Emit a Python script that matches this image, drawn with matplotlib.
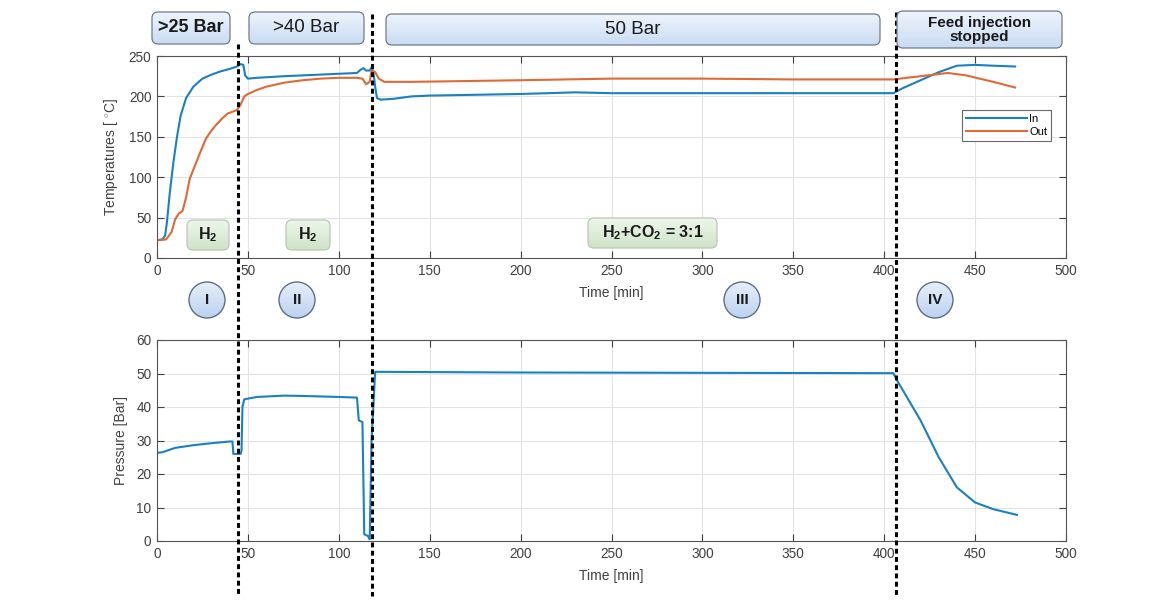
import numpy as np
import matplotlib
matplotlib.use("Agg")
import matplotlib.pyplot as plt
from matplotlib.patches import FancyBboxPatch, Circle
from matplotlib.lines import Line2D
from matplotlib.colors import LinearSegmentedColormap

plt.rcParams['font.family'] = ['Liberation Sans', 'DejaVu Sans']
plt.rcParams['mathtext.fontset'] = 'custom'
plt.rcParams['mathtext.rm'] = 'Liberation Sans'
plt.rcParams['mathtext.it'] = 'Liberation Sans:italic'
plt.rcParams['mathtext.bf'] = 'Liberation Sans:bold'

# Reactor inlet / outlet temperatures [°C]
t_in = [0, 3, 4.5, 5.5, 7, 9, 11, 13, 16, 20, 25, 30, 35, 40, 44, 46, 47.5, 48.5, 50, 55,
        70, 90, 100, 110, 112, 113.5, 115, 117, 118, 119, 120, 121, 123, 130, 140, 150,
        200, 230, 250, 300, 350, 405, 410, 420, 430, 440, 450, 460, 472]
temp_in = [22, 23, 28, 45, 80, 118, 150, 176, 198, 212, 222, 227, 231, 234, 237, 240, 239,
           226, 222, 223, 225, 227, 228, 229, 233, 235, 232, 232, 236, 231, 212, 198, 196,
           197, 200, 201, 203, 205, 204, 204, 204, 204, 210, 220, 230, 238, 239, 238, 237]

t_out = [0, 5, 8, 10, 12, 14, 16, 18, 21, 24, 27, 30, 33, 36, 39, 44, 46, 48, 50, 55, 60,
         70, 80, 90, 100, 110, 113, 115, 117, 118, 120, 122, 125, 140, 200, 250, 300, 350,
         405, 420, 435, 445, 460, 472]
temp_out = [22, 23, 32, 48, 55, 58, 75, 98, 115, 132, 148, 158, 166, 173, 179, 183, 190,
            200, 203, 208, 212, 217, 220, 222, 223, 223, 222, 215, 218, 232, 230, 222, 218,
            218, 220, 222, 222, 221, 221, 225, 229, 226, 218, 211]

# Reactor pressure [Bar]
t_p = [0, 3, 10, 20, 30, 40, 41.5, 42, 46, 46.5, 47, 48, 55, 70, 80, 100, 110, 111,
       113, 114, 116, 117, 118, 119, 120, 200, 300, 405, 407, 420, 430, 440, 450, 460, 473]
pressure = [26.3, 26.5, 27.8, 28.6, 29.2, 29.7, 29.7, 26, 26, 27, 40, 42.3, 43, 43.4, 43.3,
            43, 42.8, 36, 35.5, 2, 1.5, 0.5, 30, 40, 50.5, 50.3, 50.2, 50.1, 48, 36, 25,
            16, 11.5, 9.5, 7.8]

stage_times = [44.5, 118.3, 406.5]
pressure_labels = ['>25 Bar', '>40 Bar', '50 Bar', 'Feed injection\nstopped']
gas_labels = [r'H$_\mathbf{2}$', r'H$_\mathbf{2}$', r'H$_\mathbf{2}$+CO$_\mathbf{2}$ = 3:1']
stage_labels = ['I', 'II', 'III', 'IV']

W, H = 1165, 600
fig = plt.figure(figsize=(W / 100, H / 100), dpi=100)

blue = '#1a80c4'
orange = '#df6a35'
tick_color = '#404040'

ax1 = fig.add_axes([157 / W, 1 - 258 / H, (1066 - 157) / W, (258 - 56) / H])
ax2 = fig.add_axes([157 / W, 1 - 541 / H, (1066 - 157) / W, (541 - 340) / H])

for ax in (ax1, ax2):
    ax.set_xlim(0, 500)
    ax.set_xticks(range(0, 501, 50))
    ax.grid(True, color='#e3e3e3', linewidth=0.8)
    ax.set_axisbelow(True)
    ax.tick_params(direction='in', top=True, right=True, length=5, width=0.8,
                   labelsize=9.8, colors=tick_color, pad=4)
    for s in ax.spines.values():
        s.set_color('#555555')
        s.set_linewidth(0.8)
    ax.set_xlabel('Time [min]', fontsize=10, color=tick_color, labelpad=6)

ax1.plot(t_in, temp_in, color=blue, lw=1.5, label='In')
ax1.plot(t_out, temp_out, color=orange, lw=1.5, label='Out')
ax1.set_ylim(0, 250)
ax1.set_yticks(range(0, 251, 50))
ax1.set_ylabel('Temperatures [ $^{\\circ}$C]', fontsize=10, color=tick_color, labelpad=6)
leg = ax1.legend(loc='upper right', bbox_to_anchor=(0.99, 0.76), fontsize=8,
                 frameon=True, fancybox=False, handlelength=5.5, handletextpad=0.2,
                 borderpad=0.35, labelspacing=0.3)
leg.get_frame().set_edgecolor('#444444')
leg.get_frame().set_linewidth(0.8)

ax2.plot(t_p, pressure, color=blue, lw=1.5)
ax2.set_ylim(0, 60)
ax2.set_yticks(range(0, 61, 10))
ax2.set_ylabel('Pressure [Bar]', fontsize=10, color=tick_color, labelpad=6)

# Annotation layer in pixel coordinates (origin top-left)
ov = fig.add_axes([0, 0, 1, 1], zorder=10)
ov.set_xlim(0, W)
ov.set_ylim(H, 0)
ov.axis('off')
ov.patch.set_alpha(0)

def data_to_px(t):
    disp = ax1.transData.transform((t, 0))
    return ov.transData.inverted().transform(disp)[0]

# Stage separators spanning the whole figure
tops = [44, 14, 12]
for t, top in zip(stage_times, tops):
    x = data_to_px(t)
    ov.add_line(Line2D([x, x], [top, 596], color='black', lw=2.2,
                       linestyle=(0, (1.6, 1.1))))

blue_grad = LinearSegmentedColormap.from_list('bg', ['#eef4fc', '#c9dcf3'])
green_grad = LinearSegmentedColormap.from_list('gg', ['#eef6eb', '#cfe3c8'])
circ_grad = LinearSegmentedColormap.from_list('cg', ['#e6effb', '#bcd2ef'])
grad = np.linspace(0, 1, 64).reshape(-1, 1)

def label_box(x0, x1, y0, y1, text, cmap, edge, bold, size):
    r = 6
    box = FancyBboxPatch((x0 + r, y0 + r), x1 - x0 - 2 * r, y1 - y0 - 2 * r,
                         boxstyle=f"round,pad={r}", facecolor='none', edgecolor=edge,
                         linewidth=0.9, zorder=6)
    ov.add_patch(box)
    im = ov.imshow(grad, cmap=cmap, extent=(x0, x1, y1, y0), aspect='auto',
                   interpolation='bilinear', zorder=5)
    im.set_clip_path(box)
    ov.text((x0 + x1) / 2, (y0 + y1) / 2, text, ha='center', va='center',
            fontsize=size, fontweight='bold' if bold else 'normal', color='#1a1a1a',
            zorder=7, linespacing=1.0)

pbox = [(152, 230, 12, 44, True, 13), (249, 364, 12, 44, False, 13.5),
        (386, 880, 14, 45, False, 13.5), (897, 1062, 11, 48, True, 11)]
for (x0, x1, y0, y1, bold, size), txt in zip(pbox, pressure_labels):
    label_box(x0, x1, y0, y1, txt, blue_grad, '#6f7c8c', bold, size)

gbox = [(187, 229, 220, 250), (286, 330, 220, 250), (588, 717, 218, 248)]
for (x0, x1, y0, y1), txt in zip(gbox, gas_labels):
    label_box(x0, x1, y0, y1, txt, green_grad, '#b9c9b3', True, 11.5)

circles = [207, 297, 742, 935]
for cx, txt in zip(circles, stage_labels):
    c = Circle((cx, 300), 18, facecolor='none', edgecolor='#5d6f86', linewidth=1.0,
               zorder=6)
    ov.add_patch(c)
    im = ov.imshow(grad, cmap=circ_grad, extent=(cx - 18, cx + 18, 318, 282),
                   aspect='auto', interpolation='bilinear', zorder=5)
    im.set_clip_path(c)
    ov.text(cx, 300, txt, ha='center', va='center', fontsize=11,
            fontweight='bold', color='#1a1a1a', zorder=7)

ov.set_xlim(0, W)
ov.set_ylim(H, 0)

fig.savefig('out.png', dpi=100)
